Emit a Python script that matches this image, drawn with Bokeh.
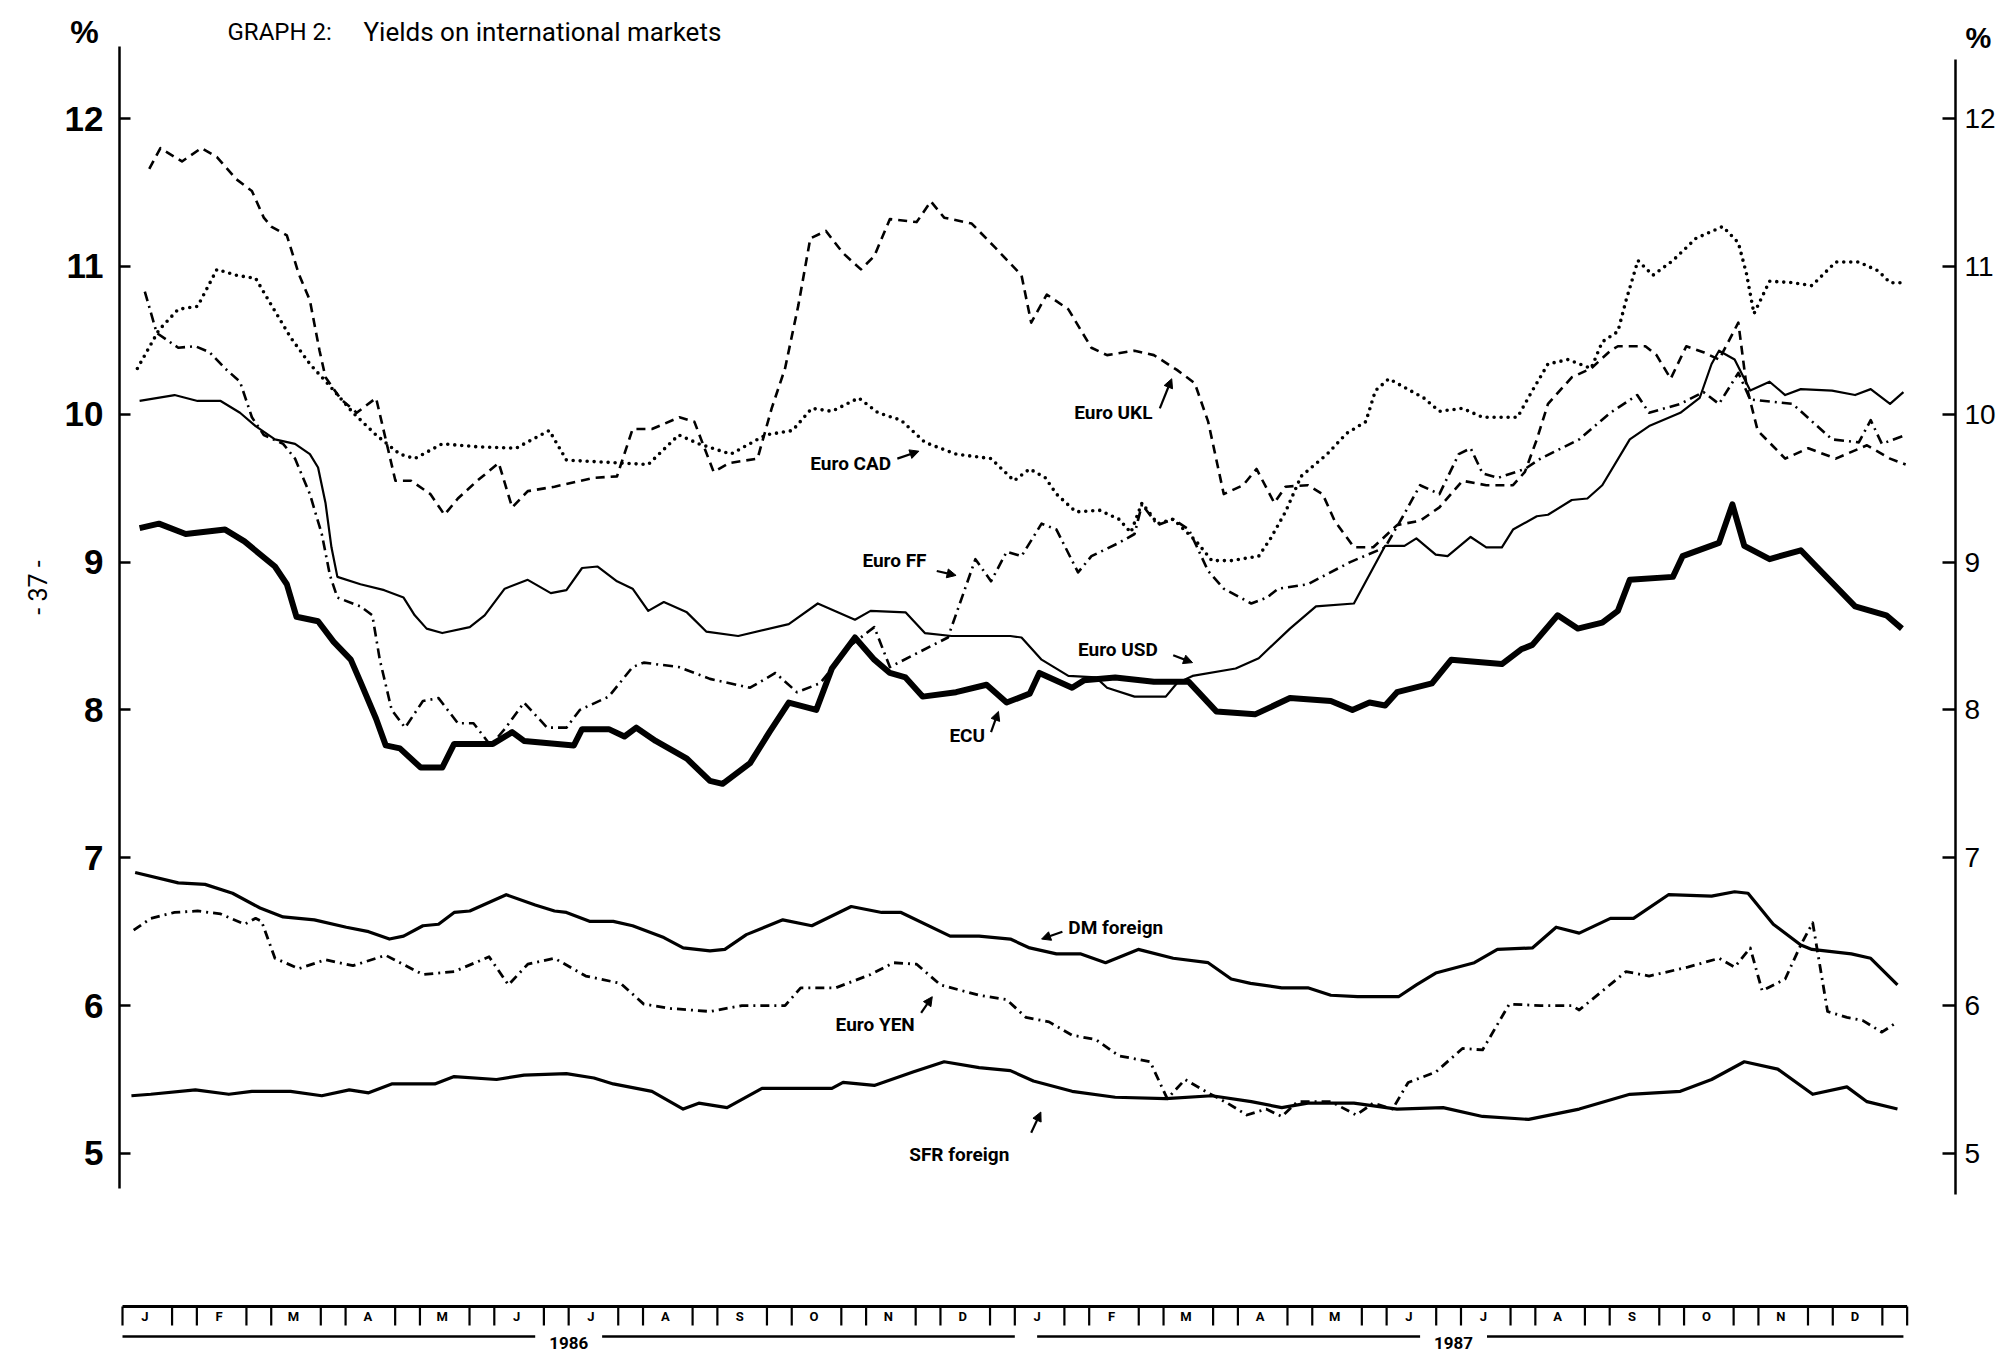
from bokeh.plotting import figure
from bokeh.models import Range1d, LinearAxis, FixedTicker, Label, Arrow, NormalHead, ColumnDataSource
from bokeh.embed import file_html
from bokeh.resources import INLINE
from bokeh.core.properties import value
import math

# ---------------- data (x = months since 1 Jan 1986, y = yield %) ----------------
ecu_m = [0.23,0.49,0.85,1.38,1.64,2.05,2.21,2.34,2.63,2.84,3.07,3.20,3.41,3.54,3.73,4.01,4.30,4.46,4.98,5.24,5.40,6.07,6.18,6.54,6.75,6.91,7.17,7.59,7.90,8.07,8.44,8.70,8.96,9.33,9.54,9.85,10.11,10.32,10.53,10.76,11.21,11.62,11.89,12.20,12.33,12.77,12.93,13.35,13.87,14.34,14.71,15.23,15.70,16.25,16.54,16.77,16.98,17.14,17.61,17.87,18.55,18.81,18.96,19.30,19.57,19.90,20.11,20.27,20.85,20.98,21.47,21.65,21.81,22.15,22.57,22.78,23.30,23.72,23.93]
ecu_v = [9.23,9.26,9.19,9.22,9.14,8.97,8.85,8.63,8.60,8.46,8.34,8.19,7.94,7.76,7.74,7.61,7.61,7.77,7.77,7.85,7.79,7.76,7.87,7.87,7.82,7.88,7.79,7.67,7.52,7.50,7.64,7.85,8.05,8.00,8.28,8.49,8.34,8.25,8.22,8.09,8.12,8.17,8.05,8.11,8.25,8.15,8.20,8.22,8.19,8.19,7.99,7.97,8.08,8.06,8.00,8.05,8.03,8.12,8.18,8.34,8.31,8.41,8.44,8.64,8.55,8.59,8.67,8.88,8.90,9.04,9.13,9.39,9.11,9.02,9.08,8.97,8.70,8.64,8.55]

usd_m = [0.23,0.70,1.01,1.32,1.58,1.79,2.05,2.32,2.52,2.63,2.73,2.81,2.89,3.20,3.52,3.78,3.93,4.09,4.30,4.67,4.87,5.14,5.45,5.76,5.97,6.18,6.39,6.65,6.86,7.07,7.28,7.59,7.85,8.28,8.96,9.35,9.85,10.06,10.53,10.79,11.15,11.94,12.09,12.36,12.72,13.09,13.24,13.61,14.03,14.18,14.39,14.97,15.28,15.70,16.05,16.56,16.98,17.24,17.40,17.66,17.82,18.13,18.34,18.55,18.70,19.02,19.17,19.49,19.70,19.90,20.27,20.53,20.95,21.21,21.37,21.47,21.68,21.89,22.15,22.36,22.57,22.99,23.30,23.51,23.77,23.95]
usd_v = [10.09,10.13,10.09,10.09,10.01,9.92,9.83,9.80,9.73,9.64,9.40,9.10,8.90,8.85,8.81,8.76,8.64,8.55,8.52,8.56,8.64,8.82,8.88,8.79,8.81,8.96,8.97,8.87,8.82,8.67,8.73,8.66,8.53,8.50,8.58,8.72,8.61,8.67,8.66,8.52,8.50,8.50,8.49,8.34,8.23,8.22,8.15,8.09,8.09,8.18,8.23,8.28,8.35,8.55,8.70,8.72,9.11,9.11,9.16,9.05,9.04,9.17,9.10,9.10,9.22,9.31,9.32,9.42,9.43,9.52,9.83,9.92,10.01,10.11,10.34,10.43,10.37,10.16,10.22,10.13,10.17,10.16,10.13,10.17,10.07,10.15]

ff_m = [0.30,0.46,0.75,0.98,1.17,1.38,1.58,1.74,1.90,2.16,2.32,2.52,2.68,2.79,2.89,3.20,3.36,3.46,3.62,3.80,4.04,4.25,4.51,4.72,4.95,5.14,5.40,5.71,5.97,6.15,6.54,6.86,7.01,7.48,7.90,8.44,8.78,9.07,9.38,9.80,10.11,10.32,11.10,11.47,11.68,11.89,12.09,12.36,12.56,12.85,13.03,13.40,13.61,13.71,13.92,14.13,14.34,14.60,14.81,15.18,15.39,15.54,15.94,16.51,16.98,17.22,17.45,17.71,17.97,18.13,18.29,18.50,18.86,19.07,19.59,20.01,20.37,20.53,20.95,21.26,21.47,21.73,21.89,22.46,22.99,23.35,23.51,23.66,23.98]
ff_v = [10.83,10.55,10.45,10.46,10.42,10.31,10.22,9.98,9.86,9.80,9.70,9.46,9.19,8.91,8.76,8.70,8.64,8.34,8.00,7.88,8.06,8.08,7.91,7.91,7.76,7.87,8.05,7.88,7.88,8.00,8.09,8.29,8.32,8.29,8.21,8.15,8.25,8.12,8.18,8.44,8.56,8.29,8.49,9.02,8.87,9.07,9.04,9.26,9.22,8.93,9.04,9.13,9.19,9.39,9.25,9.29,9.22,8.94,8.82,8.72,8.76,8.82,8.85,9.00,9.10,9.31,9.52,9.46,9.73,9.77,9.60,9.57,9.63,9.70,9.83,10.01,10.13,10.01,10.07,10.15,10.07,10.28,10.10,10.07,9.83,9.81,9.96,9.80,9.86]

ukl_m = [0.36,0.51,0.80,1.06,1.27,1.53,1.74,1.90,2.00,2.21,2.37,2.52,2.65,2.73,2.94,3.15,3.41,3.54,3.67,3.88,4.14,4.33,4.51,4.77,5.06,5.24,5.45,5.81,6.34,6.65,6.86,7.12,7.49,7.69,7.95,8.16,8.54,8.73,8.91,9.09,9.25,9.46,9.69,9.93,10.11,10.32,10.68,10.87,11.05,11.42,11.73,12.09,12.22,12.43,12.72,13.03,13.24,13.61,13.87,14.18,14.42,14.60,14.81,15.07,15.25,15.49,15.64,15.94,16.14,16.30,16.56,16.82,17.14,17.45,17.71,18.02,18.34,18.70,18.86,19.02,19.17,19.49,19.75,20.01,20.11,20.48,20.63,20.82,21.03,21.26,21.47,21.73,21.84,21.99,22.36,22.67,23.04,23.46,23.77,23.98]
ukl_v = [11.66,11.80,11.71,11.80,11.74,11.59,11.51,11.33,11.27,11.21,10.95,10.77,10.43,10.25,10.10,10.01,10.11,9.83,9.55,9.55,9.46,9.32,9.43,9.55,9.67,9.37,9.48,9.51,9.57,9.58,9.90,9.90,9.98,9.95,9.61,9.67,9.70,10.04,10.31,10.74,11.19,11.24,11.09,10.98,11.07,11.32,11.30,11.44,11.33,11.29,11.13,10.94,10.62,10.81,10.71,10.45,10.40,10.43,10.40,10.30,10.21,9.95,9.46,9.52,9.63,9.40,9.51,9.52,9.46,9.28,9.10,9.10,9.25,9.28,9.37,9.55,9.52,9.52,9.61,9.83,10.07,10.25,10.31,10.43,10.46,10.46,10.40,10.24,10.46,10.42,10.37,10.62,10.19,9.89,9.70,9.77,9.70,9.79,9.70,9.66]

cad_m = [0.20,0.49,0.75,1.01,1.27,1.53,1.79,2.00,2.26,2.52,2.79,3.10,3.41,3.73,3.93,4.30,4.77,5.29,5.74,5.97,6.70,7.07,7.48,7.75,8.18,8.65,9.01,9.27,9.54,9.90,10.16,10.47,10.79,11.21,11.68,11.99,12.20,12.41,12.56,12.82,13.14,13.40,13.56,13.71,13.92,14.13,14.44,14.65,14.91,15.28,15.44,15.64,15.85,16.20,16.46,16.72,16.85,17.03,17.50,17.71,18.02,18.29,18.76,18.96,19.17,19.44,19.75,19.90,20.11,20.22,20.38,20.58,20.85,21.16,21.52,21.73,21.84,21.94,22.15,22.46,22.72,23.04,23.35,23.61,23.77,23.98]
cad_v = [10.31,10.57,10.71,10.73,10.98,10.94,10.92,10.74,10.52,10.34,10.19,10.01,9.86,9.73,9.70,9.80,9.78,9.77,9.89,9.69,9.67,9.66,9.86,9.80,9.73,9.86,9.89,10.04,10.02,10.11,10.01,9.96,9.81,9.73,9.70,9.55,9.63,9.57,9.46,9.34,9.35,9.29,9.20,9.40,9.26,9.29,9.14,9.01,9.01,9.04,9.16,9.34,9.58,9.73,9.87,9.95,10.16,10.24,10.11,10.02,10.04,9.98,9.98,10.16,10.34,10.37,10.31,10.49,10.56,10.77,11.04,10.94,11.04,11.19,11.27,11.16,10.95,10.68,10.90,10.89,10.87,11.03,11.03,10.97,10.89,10.89]

dm_m = [0.17,0.75,1.11,1.48,1.85,2.16,2.58,3.01,3.31,3.59,3.78,4.04,4.25,4.46,4.67,5.16,5.55,5.81,5.97,6.28,6.60,6.86,7.28,7.54,7.90,8.10,8.39,8.88,9.27,9.80,10.21,10.47,11.13,11.52,11.94,12.20,12.56,12.88,13.22,13.66,14.13,14.60,14.91,15.17,15.59,15.94,16.25,16.61,17.16,17.40,17.66,18.18,18.49,18.96,19.28,19.59,20.01,20.32,20.79,21.37,21.68,21.86,22.20,22.57,22.72,23.25,23.51,23.87]
dm_v = [6.90,6.83,6.82,6.76,6.66,6.60,6.58,6.53,6.50,6.45,6.47,6.54,6.55,6.63,6.64,6.75,6.68,6.64,6.63,6.57,6.57,6.54,6.46,6.39,6.37,6.38,6.48,6.58,6.54,6.67,6.63,6.63,6.47,6.47,6.45,6.39,6.35,6.35,6.29,6.38,6.32,6.29,6.18,6.15,6.12,6.12,6.07,6.06,6.06,6.14,6.22,6.29,6.38,6.39,6.53,6.49,6.59,6.59,6.75,6.74,6.77,6.76,6.55,6.41,6.38,6.35,6.32,6.14]

yen_m = [0.15,0.38,0.70,1.01,1.32,1.64,1.79,1.87,2.05,2.37,2.73,3.10,3.41,3.54,4.04,4.46,4.93,5.19,5.45,5.81,6.23,6.70,7.01,7.38,7.90,8.33,8.91,9.12,9.59,10.06,10.37,10.68,11.00,11.52,11.89,12.15,12.46,12.77,13.09,13.40,13.82,14.05,14.29,14.60,14.86,15.12,15.38,15.59,15.80,16.25,16.59,16.82,17.08,17.29,17.66,18.02,18.29,18.65,19.07,19.49,19.59,20.22,20.53,21.05,21.47,21.68,21.89,22.05,22.36,22.57,22.73,22.93,23.19,23.40,23.66,23.87]
yen_v = [6.51,6.59,6.63,6.64,6.62,6.55,6.59,6.57,6.32,6.25,6.31,6.27,6.32,6.34,6.21,6.23,6.33,6.14,6.28,6.32,6.20,6.15,6.01,5.98,5.96,6.00,6.00,6.12,6.12,6.21,6.29,6.28,6.14,6.07,6.04,5.92,5.89,5.80,5.77,5.66,5.62,5.37,5.50,5.41,5.34,5.26,5.30,5.25,5.35,5.35,5.26,5.34,5.30,5.48,5.55,5.71,5.70,6.01,6.00,6.00,5.97,6.23,6.20,6.26,6.32,6.26,6.39,6.10,6.18,6.41,6.56,5.96,5.92,5.90,5.82,5.89]

sfr_m = [0.12,0.38,0.98,1.43,1.74,2.26,2.68,3.05,3.31,3.62,4.20,4.46,5.03,5.40,5.97,6.34,6.60,7.12,7.54,7.75,8.13,8.60,9.54,9.69,10.11,10.63,11.05,11.52,11.94,12.25,12.77,13.35,14.03,14.65,15.18,15.59,15.94,16.56,17.14,17.76,18.29,18.91,19.59,20.27,20.95,21.37,21.81,22.26,22.73,23.19,23.46,23.87]
sfr_v = [5.39,5.40,5.43,5.40,5.42,5.42,5.39,5.43,5.41,5.47,5.47,5.52,5.50,5.53,5.54,5.51,5.47,5.42,5.30,5.34,5.31,5.44,5.44,5.48,5.46,5.55,5.62,5.58,5.56,5.49,5.42,5.38,5.37,5.39,5.35,5.31,5.34,5.34,5.30,5.31,5.25,5.23,5.30,5.40,5.42,5.50,5.62,5.57,5.40,5.45,5.35,5.30]

label_text = ["Euro UKL", "Euro CAD", "Euro FF", "Euro USD", "ECU", "DM foreign", "Euro YEN", "SFR foreign"]
label_m = [12.80, 9.25, 9.95, 12.85, 11.12, 12.72, 9.59, 10.58]
label_v = [10.01, 9.67, 9.01, 8.41, 7.83, 6.53, 5.87, 4.99]
arrow_m0 = [13.95, 10.42, 10.95, 14.13, 11.68, 12.64, 10.74, 12.22]
arrow_v0 = [10.04, 9.70, 8.94, 8.37, 7.85, 6.50, 5.95, 5.14]
arrow_m1 = [14.11, 10.71, 11.21, 14.39, 11.78, 12.36, 10.89, 12.35]
arrow_v1 = [10.24, 9.75, 8.91, 8.32, 7.99, 6.45, 6.06, 5.28]

y_ticks = [5, 6, 7, 8, 9, 10, 11, 12]
month_letters = ["J", "F", "M", "A", "M", "J", "J", "A", "S", "O", "N", "D"] * 2
year_labels = ["1986", "1987"]

# ---------------- layout (page pixels; Bokeh's page has no body margin) ----------------
W, H = 2010, 1352
X0, PXM = 122.0, 74.36          # page x of month 0, px per month
Y12, PXV = 118.1, 147.83        # page y of 12 %, px per 1 %
AXL, AXR = 119, 1955            # page x of the left / right axis lines

def vx(page_x):
    return (page_x - X0) / PXM

def vy(page_y):
    return 12 - (page_y - Y12) / PXV

p = figure(width=W, height=H, output_backend="svg", toolbar_location=None,
           x_range=Range1d(vx(0), vx(W)), y_range=Range1d(vy(H), vy(0)),
           x_axis_type=None, y_axis_type=None,
           min_border_left=0, min_border_right=0, min_border_top=0, min_border_bottom=0)
p.outline_line_color = None
p.background_fill_color = "white"
p.border_fill_color = "white"

SANS = "Liberation Sans"
LAB = "Roboto"

left = LinearAxis(ticker=FixedTicker(ticks=y_ticks), bounds=(4.76, 12.49), fixed_location=vx(AXL),
                  major_tick_in=11, major_tick_out=0, minor_tick_in=0, minor_tick_out=0,
                  axis_line_width=2.5, major_tick_line_width=2.5,
                  major_label_text_font=SANS, major_label_text_font_size="35px",
                  major_label_text_font_style="bold", major_label_standoff=16,
                  major_label_text_color="black", axis_line_color="black", major_tick_line_color="black")
p.add_layout(left, "left")
right = LinearAxis(ticker=FixedTicker(ticks=y_ticks), bounds=(4.72, 12.40), fixed_location=vx(AXR),
                   major_tick_in=13, major_tick_out=0, minor_tick_in=0, minor_tick_out=0,
                   axis_line_width=2.5, major_tick_line_width=2.5,
                   major_label_text_font=SANS, major_label_text_font_size="28px",
                   major_label_standoff=9,
                   major_label_text_color="black", axis_line_color="black", major_tick_line_color="black")
p.add_layout(right, "right")

# ---------------- series ----------------
common = dict(line_color="black", line_join="round")
p.line(ukl_m, ukl_v, line_width=2.6, line_dash="9 6", **common)
p.line(cad_m, cad_v, line_width=3.6, line_dash="0 7", line_cap="round", **common)
p.line(ff_m, ff_v, line_width=2.6, line_dash="10 5 2 5", **common)
p.line(usd_m, usd_v, line_width=2.2, **common)
p.line(ecu_m, ecu_v, line_width=6, **common)
p.line(dm_m, dm_v, line_width=3.2, **common)
p.line(yen_m, yen_v, line_width=2.8, line_dash="9 5 2 5", **common)
p.line(sfr_m, sfr_v, line_width=3.2, **common)

# ---------------- series labels and arrows ----------------
p.text(x=label_m, y=label_v, text=label_text, text_font=value(LAB), text_font_style="bold",
       text_font_size="19px", text_align="left", text_baseline="middle", text_color="black")
arrows = ColumnDataSource(dict(x0=arrow_m0, y0=arrow_v0, x1=arrow_m1, y1=arrow_v1))
p.add_layout(Arrow(source=arrows, x_start="x0", y_start="y0", x_end="x1", y_end="y1",
                   line_width=2.2, line_color="black",
                   end=NormalHead(size=9, fill_color="black", line_color="black")))

# ---------------- texts around the plot ----------------
p.add_layout(Label(x=vx(227), y=vy(31), text="GRAPH 2:", text_font=LAB, text_color="black",
                   text_font_size="24px", text_baseline="middle", text_align="left"))
p.add_layout(Label(x=vx(363), y=vy(31), text="Yields on international markets", text_font=LAB,
                   text_color="black", text_font_size="26px", text_baseline="middle", text_align="left"))
p.add_layout(Label(x=vx(84), y=vy(31), text="%", text_font=SANS, text_font_style="bold", text_color="black",
                   text_font_size="32px", text_baseline="middle", text_align="center"))
p.add_layout(Label(x=vx(1978), y=vy(37), text="%", text_font=SANS, text_font_style="bold", text_color="black",
                   text_font_size="29px", text_baseline="middle", text_align="center"))
p.add_layout(Label(x=vx(38), y=vy(587), text="- 37 -", text_font=LAB, text_color="black",
                   text_font_size="25px", text_baseline="middle", text_align="center", angle=math.pi / 2))

# ---------------- month strip (time axis) ----------------
strip_top, strip_bot, letter_y = vy(1306), vy(1325), vy(1316)
year_line_y, year_text_y = vy(1336), vy(1342)
n_months = len(month_letters)
tick_x = [0.0] + [k + 2.0 / 3.0 for k in range(n_months)] + [k + 1.0 for k in range(n_months)]
p.segment(x0=tick_x, y0=[strip_top] * len(tick_x), x1=tick_x, y1=[strip_bot] * len(tick_x),
          line_width=2.2, line_color="black")
p.line([0, n_months], [strip_top, strip_top], line_width=3, line_color="black")
p.text(x=[k + 0.3 for k in range(n_months)], y=[letter_y] * n_months, text=month_letters,
       text_font=value(LAB), text_font_style="bold", text_font_size="13px",
       text_align="center", text_baseline="middle", text_color="black")
year_mid = [6.0, 17.9]
p.segment(x0=[0.0, 6.45, 12.3, 18.35], y0=[year_line_y] * 4, x1=[5.55, 12.0, 17.45, 23.95], y1=[year_line_y] * 4,
          line_width=2.6, line_color="black")
p.text(x=year_mid, y=[year_text_y] * 2, text=year_labels, text_font=value(LAB), text_font_style="bold",
       text_font_size="17px", text_align="center", text_baseline="middle", text_color="black")

open("out.html", "w").write(file_html(p, INLINE))
